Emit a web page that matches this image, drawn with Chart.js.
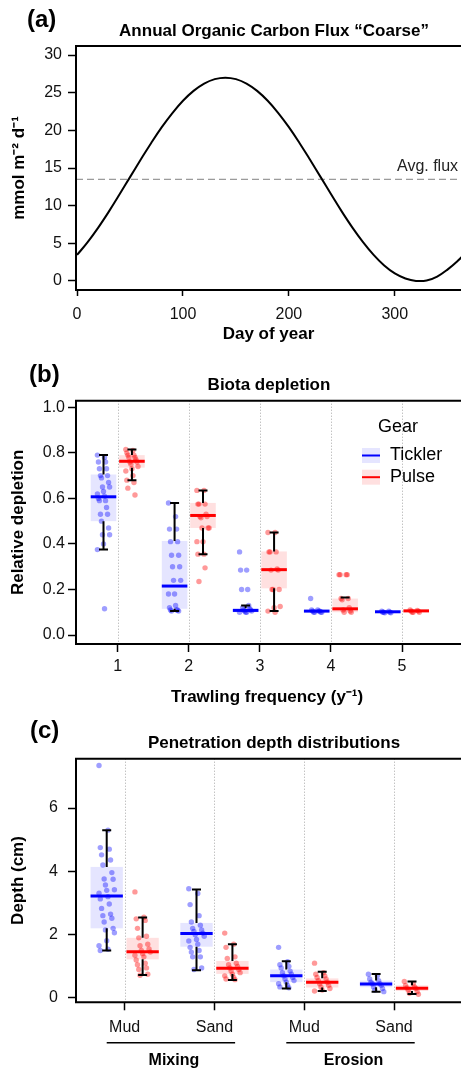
<!DOCTYPE html>
<html>
<head>
<meta charset="utf-8">
<script src="https://cdn.jsdelivr.net/npm/chart.js@4.4.0/dist/chart.umd.min.js"></script>
<style>
  body { margin: 0; background: #fff; }
  canvas { display: block; }
</style>
</head>
<body>
<canvas id="fluxChart" width="461" height="345"></canvas>
<canvas id="depletionChart" width="461" height="367"></canvas>
<canvas id="depthChart" width="461" height="357"></canvas>
<script>
// ==========================================
// DATA
// ==========================================

// (a) annual organic carbon flux, read every 10 days
const fluxDays = [0, 10, 20, 30, 40, 50, 60, 70, 80, 90, 100, 110, 120, 130, 140, 150, 160, 170, 180,
  190, 200, 210, 220, 230, 240, 250, 260, 270, 280, 290, 300, 310, 320, 330, 340, 350, 360, 365];
const fluxValues = [3.46, 5.16, 7.09, 9.21, 11.47, 13.79, 16.09, 18.33, 20.43, 22.3, 23.93, 25.24, 26.21,
  26.8, 27.0, 26.8, 26.21, 25.24, 23.93, 22.3, 20.43, 18.33, 16.09, 13.79, 11.47, 9.21, 7.09, 5.16,
  3.46, 2.05, 1.0, 0.33, 0.01, 0.06, 0.59, 1.54, 2.74, 3.46];
const avgFlux = 13.5;
const fluxXTicks = [0, 100, 200, 300];
const fluxYTicks = [0, 5, 10, 15, 20, 25, 30];

// (b) biota depletion per trawling frequency
const freqTicks = [1, 2, 3, 4, 5];
const depYTicks = [0, 0.2, 0.4, 0.6, 0.8, 1.0];
const gearNames = ["Tickler", "Pulse"];

const ticklerQ1 = [0.5, 0.115, 0.1, 0.1, 0.098];
const ticklerMed = [0.607, 0.215, 0.108, 0.105, 0.102];
const ticklerQ3 = [0.705, 0.413, 0.118, 0.11, 0.106];
const ticklerLow = [0.375, 0.105, 0.1, 0.1, 0.098];
const ticklerHigh = [0.79, 0.58, 0.13, 0.11, 0.106];
const ticklerPts = [
  [0.79, 0.78, 0.76, 0.76, 0.73, 0.73, 0.7, 0.7, 0.69, 0.67, 0.65, 0.65, 0.63, 0.62, 0.61, 0.6, 0.59,
    0.59, 0.56, 0.53, 0.53, 0.5, 0.47, 0.44, 0.44, 0.4, 0.375, 0.115],
  [0.58, 0.52, 0.465, 0.465, 0.41, 0.41, 0.35, 0.35, 0.3, 0.3, 0.24, 0.24, 0.18, 0.18, 0.13, 0.12,
    0.11, 0.11, 0.11, 0.105, 0.105],
  [0.365, 0.285, 0.285, 0.2, 0.2, 0.13, 0.12, 0.115, 0.11, 0.11, 0.105, 0.105, 0.1, 0.1, 0.1],
  [0.16, 0.11, 0.11, 0.105, 0.105, 0.105, 0.1, 0.1, 0.1, 0.1],
  [0.105, 0.105, 0.1, 0.1, 0.1, 0.098, 0.098],
];

const pulseQ1 = [0.735, 0.47, 0.205, 0.1, 0.1];
const pulseMed = [0.763, 0.525, 0.287, 0.115, 0.106];
const pulseQ3 = [0.79, 0.58, 0.367, 0.16, 0.11];
const pulseLow = [0.68, 0.355, 0.105, 0.1, 0.1];
const pulseHigh = [0.815, 0.635, 0.45, 0.165, 0.112];
const pulsePts = [
  [0.815, 0.81, 0.8, 0.79, 0.79, 0.78, 0.78, 0.77, 0.76, 0.76, 0.75, 0.74, 0.73, 0.72, 0.7, 0.68,
    0.67, 0.645, 0.615],
  [0.635, 0.635, 0.575, 0.575, 0.575, 0.53, 0.52, 0.52, 0.515, 0.47, 0.47, 0.47, 0.41, 0.41, 0.355,
    0.355, 0.295, 0.235],
  [0.45, 0.45, 0.365, 0.365, 0.365, 0.29, 0.285, 0.285, 0.2, 0.2, 0.2, 0.125, 0.12, 0.105, 0.1],
  [0.265, 0.265, 0.265, 0.265, 0.16, 0.16, 0.155, 0.12, 0.11, 0.105, 0.1, 0.1],
  [0.11, 0.108, 0.105, 0.105, 0.1, 0.1, 0.1],
];

// (c) penetration depth per sediment / process
const siteTicks = [1, 2, 3, 4];
const siteLabels = ["Mud", "Sand", "Mud", "Sand"];
const processNames = ["Mixing", "Erosion"];
const processSpans = [[1, 2], [3, 4]];
const depthYTicks = [0, 2, 4, 6];

const ticklerDepthQ1 = [2.2, 1.62, 0.5, 0.34];
const ticklerDepthMed = [3.22, 2.04, 0.7, 0.44];
const ticklerDepthQ3 = [4.14, 2.37, 0.9, 0.55];
const ticklerDepthLow = [1.5, 0.88, 0.3, 0.2];
const ticklerDepthHigh = [5.3, 3.43, 1.16, 0.76];
const ticklerDepthPts = [
  [7.34, 5.3, 4.75, 4.7, 4.52, 4.36, 4.2, 3.96, 3.76, 3.75, 3.57, 3.42, 3.4, 3.31, 3.2, 3.13, 2.97,
    2.83, 2.65, 2.6, 2.52, 2.4, 2.2, 2.15, 2.06, 1.81, 1.65, 1.54, 1.5],
  [3.45, 3.3, 2.95, 2.6, 2.4, 2.3, 2.2, 2.15, 2.1, 2.05, 2.0, 1.95, 1.85, 1.8, 1.7, 1.6, 1.5, 1.45,
    1.3, 1.3, 0.95, 0.9],
  [1.6, 1.15, 1.05, 1.0, 0.95, 0.85, 0.8, 0.75, 0.7, 0.65, 0.6, 0.55, 0.5, 0.45, 0.4, 0.35, 0.32],
  [0.75, 0.7, 0.6, 0.55, 0.5, 0.45, 0.45, 0.4, 0.35, 0.3, 0.25, 0.2],
];

const pulseDepthQ1 = [1.22, 0.76, 0.33, 0.22];
const pulseDepthMed = [1.46, 0.94, 0.5, 0.31];
const pulseDepthQ3 = [1.9, 1.17, 0.62, 0.4];
const pulseDepthLow = [0.73, 0.57, 0.22, 0.13];
const pulseDepthHigh = [2.54, 1.7, 0.83, 0.52];
const pulseDepthPts = [
  [3.35, 2.55, 2.5, 2.45, 2.2, 1.95, 1.9, 1.7, 1.65, 1.55, 1.5, 1.45, 1.4, 1.35, 1.3, 1.2, 1.1, 1.05,
    0.95, 0.9, 0.75, 0.72],
  [2.05, 1.7, 1.6, 1.3, 1.25, 1.1, 1.05, 1.0, 0.95, 0.9, 0.85, 0.8, 0.75, 0.7, 0.65, 0.6, 0.58],
  [1.1, 0.8, 0.75, 0.7, 0.65, 0.6, 0.55, 0.5, 0.45, 0.4, 0.35, 0.3, 0.25, 0.22],
  [0.52, 0.45, 0.4, 0.35, 0.32, 0.3, 0.25, 0.2, 0.15, 0.12],
];

// ==========================================
// SHARED STYLE + HELPERS
// ==========================================

const FONT = "'Liberation Sans', Arial, Helvetica, sans-serif";
const tickFont = { family: FONT, size: 16 };
const axisTitleFont = { family: FONT, size: 17, weight: "bold" };

const TICKLER = { fill: "rgba(0, 0, 255, 0.1)", dot: "rgba(0, 0, 255, 0.38)", line: "#0000ff" };
const PULSE = { fill: "rgba(255, 0, 0, 0.12)", dot: "rgba(255, 0, 0, 0.4)", line: "#ff0000" };

// fixed, repeatable spread of dots around their group centre
function jitter(i) {
  return (((i * 7) % 13) - 6) / 70;
}

function jitterPoints(centers, offset, pts) {
  const out = [];
  pts.forEach((group, g) => {
    group.forEach((v, i) => out.push({ x: centers[g] + offset + jitter(i), y: v }));
  });
  return out;
}

function tickAxis(tickValues, extra) {
  return Object.assign(
    {
      type: "linear",
      afterBuildTicks: (s) => {
        s.ticks = tickValues.map((v) => ({ value: v }));
      },
      ticks: { font: tickFont, color: "#111", autoSkip: false, maxRotation: 0 },
      grid: { drawOnChartArea: false, tickLength: 8, tickColor: "#000", tickWidth: 1.5 },
      border: { display: false },
    },
    extra
  );
}

// box frame (left, top, bottom; the right side is cut off in the figure)
const framePlugin = {
  id: "frame",
  afterDraw(chart) {
    const { ctx, chartArea: a } = chart;
    ctx.save();
    ctx.strokeStyle = "#000";
    ctx.lineWidth = 2;
    ctx.beginPath();
    ctx.moveTo(chart.width + 2, a.top);
    ctx.lineTo(a.left, a.top);
    ctx.lineTo(a.left, a.bottom);
    ctx.lineTo(chart.width + 2, a.bottom);
    ctx.stroke();
    ctx.restore();
  },
};

function textPlugin(items) {
  return {
    id: "texts",
    afterDraw(chart) {
      const ctx = chart.ctx;
      ctx.save();
      ctx.textBaseline = "middle";
      items.forEach((t) => {
        ctx.font = t.font;
        ctx.fillStyle = t.color || "#000";
        ctx.textAlign = t.align || "center";
        ctx.fillText(t.text, t.x, t.y);
      });
      ctx.restore();
    },
  };
}

// boxes, whiskers and medians drawn through the chart's scales
function boxPlugin(centers, gears, halfWidth) {
  return {
    id: "boxes",
    beforeDatasetsDraw(chart) {
      const { ctx, chartArea: a, scales } = chart;
      const x = scales.x, y = scales.y;
      ctx.save();
      ctx.strokeStyle = "#a8a8a8";
      ctx.lineWidth = 1;
      ctx.setLineDash([1, 2]);
      centers.forEach((c) => {
        const px = Math.round(x.getPixelForValue(c)) + 0.5;
        ctx.beginPath();
        ctx.moveTo(px, a.top);
        ctx.lineTo(px, a.bottom);
        ctx.stroke();
      });
      ctx.setLineDash([]);
      gears.forEach((g) => {
        centers.forEach((c, i) => {
          const l = x.getPixelForValue(c + g.offset - halfWidth);
          const r = x.getPixelForValue(c + g.offset + halfWidth);
          const t = y.getPixelForValue(g.q3[i]);
          const b = y.getPixelForValue(g.q1[i]);
          ctx.fillStyle = g.style.fill;
          ctx.fillRect(l, t, r - l, b - t);
        });
      });
      ctx.restore();
    },
    afterDatasetsDraw(chart) {
      const { ctx, scales } = chart;
      const x = scales.x, y = scales.y;
      ctx.save();
      gears.forEach((g) => {
        centers.forEach((c, i) => {
          const mx = x.getPixelForValue(c + g.offset);
          ctx.strokeStyle = "#000";
          ctx.lineWidth = 2;
          const segs = [[g.q3[i], g.high[i]], [g.q1[i], g.low[i]]];
          segs.forEach(([from, to]) => {
            if (Math.abs(to - from) < 0.003) return;
            const p0 = y.getPixelForValue(from), p1 = y.getPixelForValue(to);
            ctx.beginPath();
            ctx.moveTo(mx, p0);
            ctx.lineTo(mx, p1);
            ctx.moveTo(mx - 4.5, p1);
            ctx.lineTo(mx + 4.5, p1);
            ctx.stroke();
          });
          const l = x.getPixelForValue(c + g.offset - halfWidth);
          const r = x.getPixelForValue(c + g.offset + halfWidth);
          const py = y.getPixelForValue(g.med[i]);
          ctx.strokeStyle = g.style.line;
          ctx.lineWidth = 3;
          ctx.beginPath();
          ctx.moveTo(l, py);
          ctx.lineTo(r, py);
          ctx.stroke();
        });
      });
      ctx.restore();
    },
  };
}

function scatterSet(points, style) {
  return {
    type: "scatter",
    data: points,
    pointRadius: 2.7,
    pointBorderWidth: 0,
    pointBackgroundColor: style.dot,
    pointHoverRadius: 2.7,
  };
}

const commonOptions = {
  responsive: false,
  animation: false,
  events: [],
  plugins: { legend: { display: false }, tooltip: { enabled: false } },
};

// ==========================================
// (a) ANNUAL FLUX
// ==========================================

new Chart(document.getElementById("fluxChart"), {
  type: "line",
  data: {
    datasets: [
      {
        data: fluxDays.map((d, i) => ({ x: d, y: fluxValues[i] })),
        borderColor: "#000",
        borderWidth: 2,
        pointRadius: 0,
        tension: 0.4,
      },
      {
        data: [{ x: -1, y: avgFlux }, { x: 366, y: avgFlux }],
        borderColor: "#808080",
        borderWidth: 1,
        borderDash: [7, 4],
        pointRadius: 0,
      },
    ],
  },
  options: Object.assign({}, commonOptions, {
    layout: { padding: { top: 46, left: 0, right: 0, bottom: 0 } },
    scales: {
      x: tickAxis(fluxXTicks, {
        min: -1,
        max: 362.5,
        afterFit: (s) => { s.height = 55; },
        ticks: { font: tickFont, color: "#111", padding: 9, maxRotation: 0 },
        grid: { drawOnChartArea: false, tickLength: 6, tickColor: "#000", tickWidth: 1.5 },
        title: { display: true, text: "Day of year", font: axisTitleFont, color: "#000", padding: { top: 0, bottom: 0 } },
      }),
      y: tickAxis(fluxYTicks, {
        min: -1.2,
        max: 31.2,
        afterFit: (s) => { s.width = 76; },
        ticks: { font: tickFont, color: "#111", padding: 6 },
        title: { display: true, text: "mmol m⁻² d⁻¹", font: axisTitleFont, color: "#000", padding: { top: 9, bottom: 0 } },
      }),
    },
  }),
  plugins: [
    framePlugin,
    textPlugin([
      { text: "(a)", x: 27, y: 20, font: `bold 24px ${FONT}`, align: "left" },
      { text: "Annual Organic Carbon Flux “Coarse”", x: 274, y: 31, font: `bold 17px ${FONT}` },
      { text: "Avg. flux", x: 397, y: 167, font: `16px ${FONT}`, align: "left", color: "#222" },
    ]),
  ],
});

// ==========================================
// (b) BIOTA DEPLETION
// ==========================================

const depletionGears = [
  { offset: -0.2, q1: ticklerQ1, med: ticklerMed, q3: ticklerQ3, low: ticklerLow, high: ticklerHigh, style: TICKLER },
  { offset: 0.2, q1: pulseQ1, med: pulseMed, q3: pulseQ3, low: pulseLow, high: pulseHigh, style: PULSE },
];

const depletionLegend = {
  id: "gearLegend",
  afterDraw(chart) {
    const ctx = chart.ctx;
    ctx.save();
    ctx.textBaseline = "middle";
    ctx.font = `18px ${FONT}`;
    ctx.fillStyle = "#000";
    ctx.textAlign = "center";
    ctx.fillText("Gear", 398, 82);
    [TICKLER, PULSE].forEach((st, i) => {
      const cy = 110.5 + i * 21.7;
      ctx.fillStyle = st.fill;
      ctx.fillRect(362, cy - 7.5, 18, 15);
      ctx.strokeStyle = st.line;
      ctx.lineWidth = 2;
      ctx.beginPath();
      ctx.moveTo(362, cy);
      ctx.lineTo(380, cy);
      ctx.stroke();
      ctx.fillStyle = "#000";
      ctx.textAlign = "left";
      ctx.fillText(gearNames[i], 390, cy);
    });
    ctx.restore();
  },
};

new Chart(document.getElementById("depletionChart"), {
  type: "scatter",
  data: {
    datasets: [
      scatterSet(jitterPoints(freqTicks, -0.2, ticklerPts), TICKLER),
      scatterSet(jitterPoints(freqTicks, 0.2, pulsePts), PULSE),
    ],
  },
  options: Object.assign({}, commonOptions, {
    layout: { padding: { top: 55.7, left: 0, right: 0, bottom: 0 } },
    scales: {
      x: tickAxis(freqTicks, {
        min: 0.413,
        max: 5.792,
        afterFit: (s) => { s.height = 68; },
        ticks: { font: tickFont, color: "#111", padding: 5, maxRotation: 0 },
        title: { display: true, text: "Trawling frequency (y⁻¹)", font: axisTitleFont, color: "#000", padding: { top: 0, bottom: 4 } },
      }),
      y: tickAxis(depYTicks, {
        min: -0.0395,
        max: 1.029,
        afterFit: (s) => { s.width = 76; },
        ticks: { font: tickFont, color: "#111", padding: 3, callback: (v) => v.toFixed(1) },
        title: { display: true, text: "Relative depletion", font: axisTitleFont, color: "#000", padding: { top: 8, bottom: 0 } },
      }),
    },
  }),
  plugins: [
    boxPlugin(freqTicks, depletionGears, 0.18),
    framePlugin,
    depletionLegend,
    textPlugin([
      { text: "(b)", x: 29, y: 30, font: `bold 24px ${FONT}`, align: "left" },
      { text: "Biota depletion", x: 269, y: 40, font: `bold 17px ${FONT}` },
    ]),
  ],
});

// ==========================================
// (c) PENETRATION DEPTH
// ==========================================

const depthGears = [
  { offset: -0.2, q1: ticklerDepthQ1, med: ticklerDepthMed, q3: ticklerDepthQ3, low: ticklerDepthLow, high: ticklerDepthHigh, style: TICKLER },
  { offset: 0.2, q1: pulseDepthQ1, med: pulseDepthMed, q3: pulseDepthQ3, low: pulseDepthLow, high: pulseDepthHigh, style: PULSE },
];

const processBrackets = {
  id: "processBrackets",
  afterDraw(chart) {
    const { ctx, scales } = chart;
    const x = scales.x;
    ctx.save();
    ctx.strokeStyle = "#000";
    ctx.lineWidth = 1.5;
    ctx.fillStyle = "#000";
    ctx.font = `bold 16px ${FONT}`;
    ctx.textAlign = "center";
    ctx.textBaseline = "middle";
    processSpans.forEach(([a, b], i) => {
      const l = x.getPixelForValue(a - 0.2);
      const r = x.getPixelForValue(b + 0.23);
      ctx.beginPath();
      ctx.moveTo(l, 330.7);
      ctx.lineTo(r, 330.7);
      ctx.stroke();
      ctx.fillText(processNames[i], (l + r) / 2 + 3, 348.5);
    });
    ctx.restore();
  },
};

new Chart(document.getElementById("depthChart"), {
  type: "scatter",
  data: {
    datasets: [
      scatterSet(jitterPoints(siteTicks, -0.2, ticklerDepthPts), TICKLER),
      scatterSet(jitterPoints(siteTicks, 0.2, pulseDepthPts), PULSE),
    ],
  },
  options: Object.assign({}, commonOptions, {
    layout: { padding: { top: 46.7, left: 0, right: 0, bottom: 0 } },
    scales: {
      x: tickAxis(siteTicks, {
        min: 0.458,
        max: 4.7155,
        afterFit: (s) => { s.height = 66.7; },
        ticks: { font: tickFont, color: "#111", padding: 8, maxRotation: 0, callback: (v, i) => siteLabels[i] },
      }),
      y: tickAxis(depthYTicks, {
        min: -0.136,
        max: 7.557,
        afterFit: (s) => { s.width = 76; },
        ticks: { font: tickFont, color: "#111", padding: 10 },
        title: { display: true, text: "Depth (cm)", font: axisTitleFont, color: "#000", padding: { top: 8, bottom: 0 } },
      }),
    },
  }),
  plugins: [
    boxPlugin(siteTicks, depthGears, 0.18),
    framePlugin,
    processBrackets,
    textPlugin([
      { text: "(c)", x: 30, y: 19, font: `bold 24px ${FONT}`, align: "left" },
      { text: "Penetration depth distributions", x: 274, y: 31, font: `bold 17px ${FONT}` },
    ]),
  ],
});
</script>
</body>
</html>
